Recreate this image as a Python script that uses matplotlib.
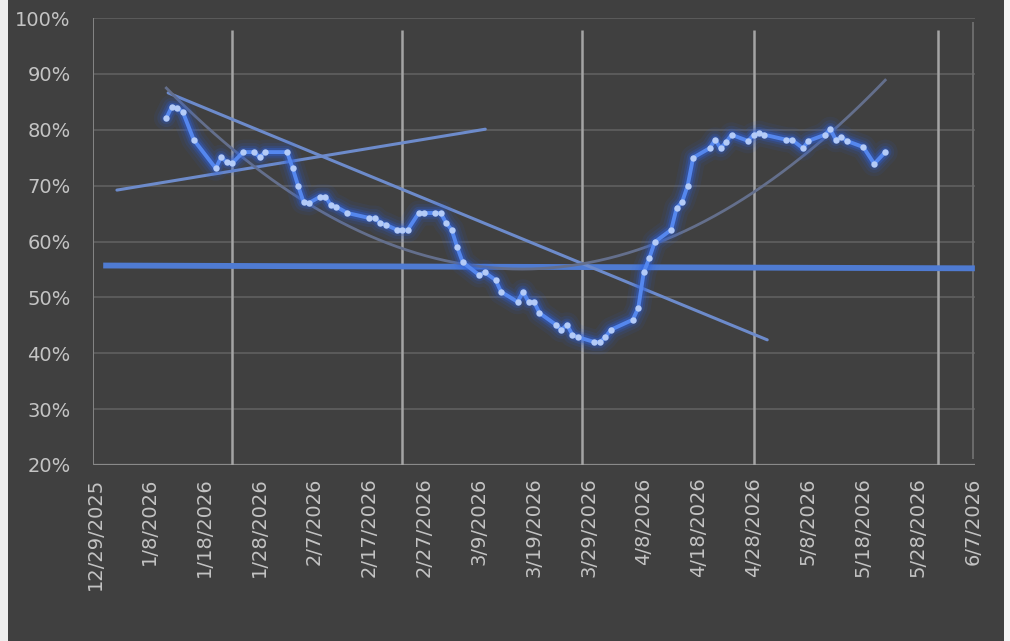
import numpy as np
import pandas as pd
import matplotlib
matplotlib.use("Agg")
import matplotlib.pyplot as plt
import matplotlib.dates as mdates
from matplotlib.ticker import FixedLocator, PercentFormatter
from matplotlib.patches import Rectangle

# ---------------- data ----------------
dates = ["2026-01-11", "2026-01-12", "2026-01-13", "2026-01-14", "2026-01-16",
         "2026-01-20", "2026-01-21", "2026-01-22", "2026-01-23", "2026-01-25",
         "2026-01-27", "2026-01-28", "2026-01-29", "2026-02-02", "2026-02-03",
         "2026-02-04", "2026-02-05", "2026-02-06", "2026-02-08", "2026-02-09",
         "2026-02-10", "2026-02-11", "2026-02-13", "2026-02-17", "2026-02-18",
         "2026-02-19", "2026-02-20", "2026-02-22", "2026-02-23", "2026-02-24",
         "2026-02-26", "2026-02-27", "2026-03-01", "2026-03-02", "2026-03-03",
         "2026-03-04", "2026-03-05", "2026-03-06", "2026-03-09", "2026-03-10",
         "2026-03-12", "2026-03-13", "2026-03-16", "2026-03-17", "2026-03-18",
         "2026-03-19", "2026-03-20", "2026-03-23", "2026-03-24", "2026-03-25",
         "2026-03-26", "2026-03-27", "2026-03-30", "2026-03-31", "2026-04-01",
         "2026-04-02", "2026-04-06", "2026-04-07", "2026-04-08", "2026-04-09",
         "2026-04-10", "2026-04-13", "2026-04-14", "2026-04-15", "2026-04-16",
         "2026-04-17", "2026-04-20", "2026-04-21", "2026-04-22", "2026-04-23",
         "2026-04-24", "2026-04-27", "2026-04-28", "2026-04-29", "2026-04-30",
         "2026-05-04", "2026-05-05", "2026-05-07", "2026-05-08", "2026-05-11",
         "2026-05-12", "2026-05-13", "2026-05-14", "2026-05-15", "2026-05-18",
         "2026-05-20", "2026-05-22"]
values = [82.1, 84.1, 83.9, 83.2, 78.2,
          73.1, 75.1, 74.2, 74.0, 76.0,
          76.0, 75.1, 76.0, 76.0, 73.2,
          70.0, 67.1, 66.9, 68.0, 68.0,
          66.5, 66.2, 65.1, 64.2, 64.2,
          63.3, 63.0, 62.1, 62.1, 62.1,
          65.1, 65.1, 65.1, 65.1, 63.3,
          62.1, 59.0, 56.3, 54.0, 54.5,
          53.1, 51.0, 49.2, 51.0, 49.2,
          49.2, 47.2, 45.1, 44.2, 45.1,
          43.3, 42.9, 42.0, 42.0, 42.9,
          44.2, 46.0, 48.1, 54.5, 57.0,
          59.9, 62.1, 66.0, 67.1, 70.0,
          75.0, 76.7, 78.2, 76.7, 77.8,
          79.1, 78.0, 79.1, 79.4, 79.1,
          78.2, 78.2, 76.7, 78.0, 79.1,
          80.1, 78.2, 78.7, 78.0, 76.9,
          73.9, 76.0]

# drawn reference lines (endpoints)
flat_dates = ["2025-12-30 12:00", "2026-06-07 08:00"]
flat_values = [55.7, 55.2]
down_dates = ["2026-01-11 08:00", "2026-04-30 12:00"]
down_values = [86.6, 42.4]
up_dates = ["2026-01-02 00:00", "2026-03-10 03:00"]
up_values = [69.2, 80.1]
vline_dates = ["2026-01-23 00:00", "2026-02-23 00:00", "2026-03-27 20:00",
               "2026-04-28 00:00", "2026-05-31 14:00"]

tick_labels = ["12/29/2025", "1/8/2026", "1/18/2026", "1/28/2026", "2/7/2026",
               "2/17/2026", "2/27/2026", "3/9/2026", "3/19/2026", "3/29/2026",
               "4/8/2026", "4/18/2026", "4/28/2026", "5/8/2026", "5/18/2026",
               "5/28/2026", "6/7/2026"]
y_ticks = [20, 30, 40, 50, 60, 70, 80, 90, 100]


def num(lst, fmt="mixed"):
    return mdates.date2num(pd.to_datetime(lst, format=fmt))


# ---------------- figure ----------------
BG = "#404040"
TXT = "#c4c4c4"
fig = plt.figure(figsize=(10.10, 6.41), dpi=100, facecolor=BG)
ax = fig.add_axes([93 / 1010, 1 - 465 / 641, (975 - 93) / 1010, (465 - 18) / 641])
ax.set_facecolor(BG)

x = num(dates)
y = np.array(values)

start = num(["2025-12-29"])[0]
ax.set_xlim(start - 0.36, start + 160.36)
ax.set_ylim(20, 100)

# gridlines
for v in y_ticks[1:]:
    ax.axhline(v, color="#5b5b5b", lw=1.4, zorder=1)
ax.axhline(20, color="#8a8a8a", lw=1.6, zorder=2)

ticks = num(tick_labels, "%m/%d/%Y")
ax.xaxis.set_major_locator(FixedLocator(ticks))
ax.set_xticklabels(tick_labels, rotation=90, color=TXT, fontsize=14)
ax.yaxis.set_major_locator(FixedLocator(y_ticks))
ax.yaxis.set_major_formatter(PercentFormatter(decimals=0))
ax.tick_params(axis="y", length=0, pad=16, labelcolor=TXT, labelsize=14)
ax.tick_params(axis="x", length=0, pad=9, labelcolor=TXT)
for s in ax.spines.values():
    s.set_visible(False)
ax.axvline(start - 0.36, color="#858585", lw=1.4, zorder=2)
ax.vlines(ticks[-1], 21, 99.2, color="#6c6c6c", lw=1.4, zorder=2)

# vertical markers
vx = num(vline_dates)
ax.vlines(vx, 20, 97.8, color="#a4a4a4", lw=1.8, zorder=2)

# flat line
ax.plot(num(flat_dates), flat_values, color="#4f7bd2", lw=4.2,
        solid_capstyle="butt", zorder=4)
# straight lines
ax.plot(num(down_dates), down_values, color="#6d8bcb", lw=2.2,
        solid_capstyle="round", zorder=4)
ax.plot(num(up_dates), up_values, color="#6d8bcb", lw=2.2,
        solid_capstyle="round", zorder=4)

# polynomial trendline of the series (order 2)
coef = np.polyfit(x - start, y, 2)
xt = np.linspace(x[0], x[-1], 300)
ax.plot(xt, np.polyval(coef, xt - start), color="#646f8c", lw=2.0, zorder=4)

# glowing series
glow = "#2d62e0"
for lw, a in [(18, 0.08), (13, 0.12), (9, 0.2), (6, 0.35)]:
    ax.plot(x, y, color=glow, lw=lw, alpha=a, solid_capstyle="round",
            solid_joinstyle="round", zorder=5)
ax.plot(x, y, color="#5587ee", lw=2.8, zorder=6, solid_joinstyle="round")
ax.plot(x, y, ls="none", marker="o", ms=4.6, color="#b4cbf7", mec="none", zorder=7)

# page edges
fig.patches.append(Rectangle((0, 0), 8 / 1010, 1, transform=fig.transFigure,
                             facecolor="#eeeeee", edgecolor="none"))
fig.patches.append(Rectangle((1004 / 1010, 0), 6 / 1010, 1, transform=fig.transFigure,
                             facecolor="#f4f4f4", edgecolor="none"))

fig.savefig("out.png", dpi=100, facecolor=BG)
